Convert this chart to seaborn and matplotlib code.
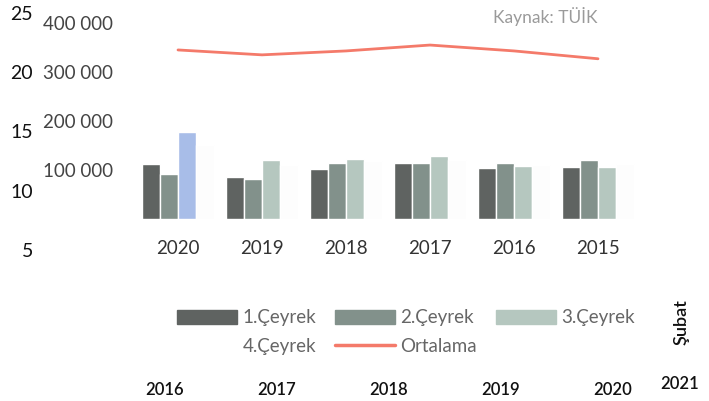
import matplotlib
matplotlib.use("Agg")
import matplotlib.pyplot as plt
import seaborn as sns
import pandas as pd
import numpy as np
from matplotlib.patches import Patch
from matplotlib.lines import Line2D

# values
years = ["2020", "2019", "2018", "2017", "2016", "2015"]
q1 = [112000, 86000, 102000, 114000, 104000, 106000]
q2 = [92000, 82000, 114000, 114000, 114000, 120000]
q3 = [178000, 120000, 122000, 128000, 108000, 106000]
q4 = [150000, 110000, 118000, 120000, 110000, 112000]
ortalama = [345000, 335000, 343000, 355000, 343000, 327000]
quarters = ["1.Çeyrek", "2.Çeyrek", "3.Çeyrek", "4.Çeyrek"]
outer_ticks = [5, 10, 15, 20, 25]
bottom_years = ["2016", "2017", "2018", "2019", "2020"]

rows = []
for qname, vals in zip(quarters, [q1, q2, q3, q4]):
	for y, v in zip(years, vals):
		rows.append({"year": y, "quarter": qname, "value": v})
df = pd.DataFrame(rows)

sns.set_style("white")
plt.rcParams["font.family"] = ["Lato", "DejaVu Sans"]

W, H = 709, 401
fig = plt.figure(figsize=(W / 100, H / 100), dpi=100)

# main chart axes (pixel box 136..640 x 23..219)
ax = fig.add_axes([136 / W, 1 - 219 / H, 504 / W, 196 / H])
palette = {"1.Çeyrek": "#5f6361", "2.Çeyrek": "#82918b", "3.Çeyrek": "#b5c7bf", "4.Çeyrek": "#fdfdfd"}
sns.barplot(data=df, x="year", y="value", hue="quarter", order=years, hue_order=quarters,
	palette=palette, saturation=1, width=0.86, ax=ax, legend=False)
# the 2020 third quarter bar is blueish in the scan
for p in ax.patches:
	if abs(p.get_height() - q3[0]) < 1 and abs(p.get_x() + p.get_width() / 2 - 0.1075) < 0.1:
		p.set_facecolor("#a8bde8")
sns.lineplot(x=np.arange(len(years)), y=ortalama, color="#f47a6a", lw=2, ax=ax)
ax.set_xlim(-0.5, 5.5)
ax.set_ylim(0, 400000)
ax.set_yticks([100000, 200000, 300000, 400000])
ax.set_yticklabels(["100 000", "200 000", "300 000", "400 000"])
ax.set_xlabel("")
ax.set_ylabel("")
for s in ax.spines.values():
	s.set_visible(False)
ax.tick_params(axis="y", length=0, pad=16.5, labelsize=13.5, labelcolor="#444444")
ax.tick_params(axis="x", length=0, pad=15, labelsize=13.5, labelcolor="#333333")

# legend, filled row by row like the original (ncol=3 fills columns)
h = {
	"1.Çeyrek": Patch(color=palette["1.Çeyrek"]),
	"2.Çeyrek": Patch(color=palette["2.Çeyrek"]),
	"3.Çeyrek": Patch(color=palette["3.Çeyrek"]),
	"4.Çeyrek": Patch(color="#ffffff"),
	"Ortalama": Line2D([0], [0], color="#f47a6a", lw=2.5),
}
order = ["1.Çeyrek", "4.Çeyrek", "2.Çeyrek", "Ortalama", "3.Çeyrek"]
fig.legend([h[k] for k in order], order, ncol=3, loc="center", bbox_to_anchor=(406 / W, 1 - 332 / H),
	frameon=False, fontsize=13.5, labelcolor="#666666", handlelength=3.2, handleheight=0.8,
	columnspacing=1.0, handletextpad=0.3, labelspacing=0.6)

# overlaid outer axis from the underlying chart
ax2 = fig.add_axes([36 / W, 1 - 250 / H, 1 / W, 237 / H])
ax2.set_ylim(5, 25)
ax2.set_yticks(outer_ticks)
ax2.set_xticks([])
for s in ax2.spines.values():
	s.set_visible(False)
ax2.tick_params(axis="y", length=0, pad=2, labelsize=14, labelcolor="#111111")
ax2.patch.set_alpha(0)

# bottom year labels of the underlying chart
for i, yl in enumerate(bottom_years):
	fig.text((165 + 112 * i) / W, 1 - 390 / H, yl, ha="center", va="center", fontsize=12,
		color="#111111", fontweight="semibold")
fig.text(680 / W, 1 - 384 / H, "2021", ha="center", va="center", fontsize=12, color="#111111",
	fontweight="semibold")
fig.text(682 / W, 1 - 322 / H, "Şubat", ha="center", va="center", rotation=90, fontsize=13,
	color="#111111", fontweight="semibold")

fig.text(545 / W, 1 - 17 / H, "Kaynak: TÜİK", ha="center", va="center", fontsize=12.5, color="#9a9a9a")

fig.savefig("out.png", dpi=100)
